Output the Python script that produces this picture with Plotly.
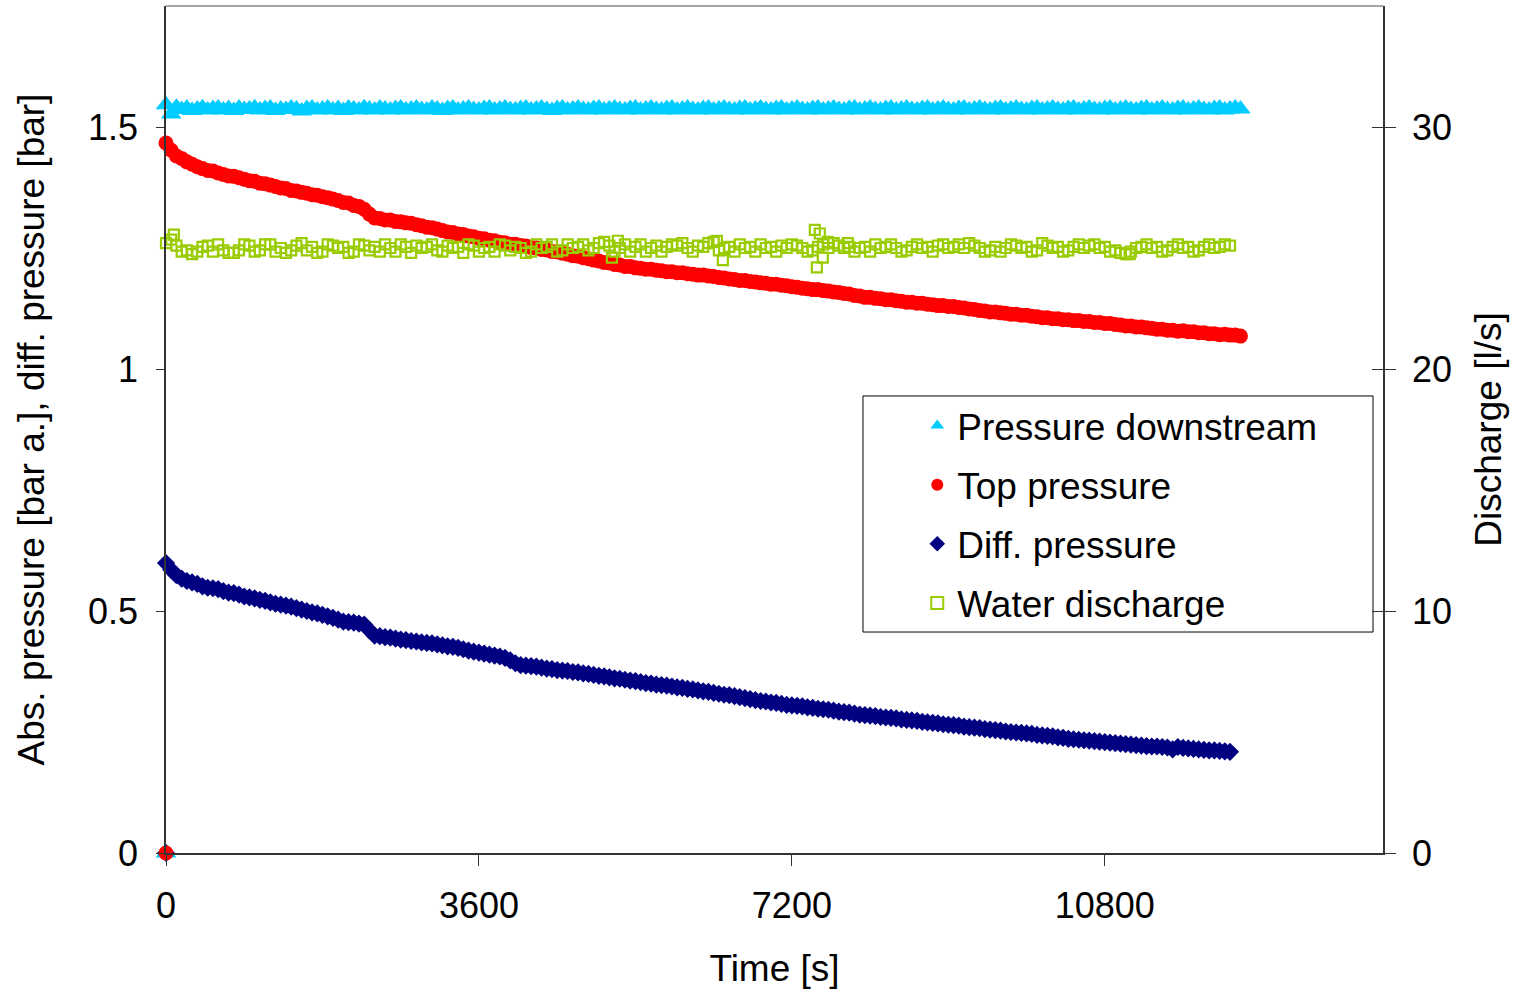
import plotly.graph_objects as go

# ---------------- data ----------------
SAMPLE_STEP = 60  # s between tabulated readings

pressure_downstream = [
    1.546, 1.527, 1.541, 1.536, 1.539, 1.534, 1.537, 1.540, 1.535, 1.538,
    1.539, 1.535, 1.538, 1.534, 1.539, 1.536, 1.537, 1.540, 1.535, 1.538,
    1.539, 1.534, 1.537, 1.536, 1.539, 1.537, 1.533, 1.538, 1.539, 1.535,
    1.537, 1.539, 1.535, 1.538, 1.534, 1.539, 1.537, 1.535, 1.540, 1.537,
    1.535, 1.539, 1.537, 1.535, 1.538, 1.539, 1.535, 1.537, 1.539, 1.536,
    1.535, 1.539, 1.537, 1.534, 1.538, 1.539, 1.535, 1.537, 1.539, 1.536,
    1.535, 1.538, 1.539, 1.535, 1.537, 1.539, 1.536, 1.535, 1.538, 1.539,
    1.535, 1.537, 1.539, 1.536, 1.534, 1.538, 1.539, 1.535, 1.537, 1.539,
    1.536, 1.535, 1.538, 1.539, 1.535, 1.537, 1.539, 1.536, 1.535, 1.538,
    1.539, 1.535, 1.537, 1.539, 1.536, 1.535, 1.538, 1.539, 1.535, 1.537,
    1.539, 1.536, 1.535, 1.538, 1.539, 1.535, 1.537, 1.539, 1.536, 1.535,
    1.538, 1.539, 1.535, 1.537, 1.539, 1.536, 1.535, 1.538, 1.539, 1.535,
    1.537, 1.539, 1.536, 1.535, 1.538, 1.539, 1.535, 1.537, 1.539, 1.536,
    1.535, 1.538, 1.539, 1.535, 1.537, 1.539, 1.536, 1.535, 1.538, 1.539,
    1.535, 1.537, 1.539, 1.536, 1.535, 1.538, 1.539, 1.535, 1.537, 1.539,
    1.536, 1.535, 1.538, 1.539, 1.535, 1.537, 1.539, 1.536, 1.535, 1.538,
    1.539, 1.535, 1.537, 1.539, 1.536, 1.535, 1.538, 1.539, 1.535, 1.537,
    1.539, 1.536, 1.535, 1.538, 1.539, 1.535, 1.537, 1.539, 1.536, 1.535,
    1.538, 1.539, 1.535, 1.537, 1.539, 1.536, 1.535, 1.538, 1.539, 1.535,
    1.537, 1.539, 1.536, 1.535, 1.538, 1.539, 1.535, 1.537, 1.539, 1.536,
    1.535, 1.538, 1.539, 1.535, 1.537, 1.539, 1.537,
]

top_pressure = [
    1.467, 1.452, 1.440, 1.435, 1.428, 1.423, 1.418, 1.414, 1.410, 1.409,
    1.405, 1.402, 1.399, 1.398, 1.395, 1.392, 1.389, 1.388, 1.384, 1.383,
    1.380, 1.377, 1.374, 1.373, 1.369, 1.368, 1.365, 1.363, 1.360, 1.359,
    1.356, 1.354, 1.351, 1.348, 1.344, 1.343, 1.338, 1.336, 1.330, 1.320,
    1.312, 1.311, 1.308, 1.308, 1.305, 1.304, 1.302, 1.301, 1.298, 1.296,
    1.293, 1.292, 1.289, 1.286, 1.283, 1.282, 1.279, 1.278, 1.275, 1.273,
    1.270, 1.269, 1.266, 1.265, 1.262, 1.261, 1.258, 1.258, 1.255, 1.254,
    1.251, 1.250, 1.247, 1.246, 1.243, 1.242, 1.239, 1.237, 1.234, 1.233,
    1.230, 1.228, 1.225, 1.223, 1.220, 1.219, 1.216, 1.215, 1.212, 1.212,
    1.209, 1.208, 1.206, 1.206, 1.204, 1.203, 1.201, 1.201, 1.199, 1.199,
    1.197, 1.196, 1.194, 1.194, 1.192, 1.191, 1.189, 1.188, 1.186, 1.185,
    1.183, 1.183, 1.181, 1.180, 1.178, 1.177, 1.175, 1.175, 1.173, 1.172,
    1.170, 1.169, 1.167, 1.166, 1.164, 1.164, 1.162, 1.161, 1.159, 1.158,
    1.156, 1.155, 1.152, 1.151, 1.148, 1.148, 1.146, 1.145, 1.143, 1.143,
    1.141, 1.140, 1.138, 1.138, 1.136, 1.136, 1.134, 1.133, 1.131, 1.131,
    1.129, 1.129, 1.127, 1.126, 1.124, 1.123, 1.121, 1.120, 1.118, 1.118,
    1.116, 1.115, 1.113, 1.113, 1.111, 1.111, 1.109, 1.108, 1.106, 1.106,
    1.104, 1.104, 1.102, 1.102, 1.100, 1.100, 1.098, 1.098, 1.096, 1.096,
    1.094, 1.094, 1.092, 1.091, 1.089, 1.089, 1.087, 1.087, 1.085, 1.084,
    1.082, 1.082, 1.080, 1.080, 1.078, 1.079, 1.077, 1.077, 1.075, 1.075,
    1.073, 1.073, 1.071, 1.072, 1.070, 1.070, 1.068,
]

diff_pressure = [
    0.599, 0.585, 0.574, 0.567, 0.562, 0.559, 0.556, 0.551, 0.548, 0.547,
    0.545, 0.541, 0.538, 0.537, 0.534, 0.530, 0.528, 0.526, 0.523, 0.521,
    0.518, 0.515, 0.513, 0.511, 0.509, 0.506, 0.503, 0.500, 0.497, 0.495,
    0.492, 0.489, 0.486, 0.482, 0.478, 0.477, 0.476, 0.474, 0.472, 0.460,
    0.449, 0.448, 0.446, 0.445, 0.443, 0.441, 0.440, 0.438, 0.437, 0.435,
    0.434, 0.433, 0.431, 0.429, 0.427, 0.426, 0.424, 0.421, 0.418, 0.416,
    0.414, 0.412, 0.410, 0.408, 0.406, 0.403, 0.398, 0.392, 0.388, 0.387,
    0.386, 0.385, 0.383, 0.381, 0.380, 0.378, 0.377, 0.376, 0.374, 0.373,
    0.371, 0.370, 0.368, 0.366, 0.365, 0.363, 0.361, 0.360, 0.358, 0.356,
    0.355, 0.353, 0.351, 0.350, 0.348, 0.347, 0.346, 0.344, 0.342, 0.341,
    0.339, 0.338, 0.336, 0.334, 0.333, 0.331, 0.329, 0.327, 0.326, 0.324,
    0.322, 0.320, 0.318, 0.316, 0.314, 0.313, 0.311, 0.310, 0.308, 0.306,
    0.305, 0.304, 0.303, 0.301, 0.300, 0.298, 0.297, 0.296, 0.294, 0.292,
    0.291, 0.290, 0.288, 0.286, 0.285, 0.284, 0.283, 0.281, 0.280, 0.279,
    0.278, 0.276, 0.275, 0.274, 0.273, 0.271, 0.270, 0.269, 0.268, 0.266,
    0.265, 0.264, 0.263, 0.261, 0.260, 0.259, 0.258, 0.256, 0.255, 0.254,
    0.253, 0.251, 0.250, 0.249, 0.248, 0.247, 0.246, 0.244, 0.243, 0.242,
    0.241, 0.239, 0.238, 0.236, 0.235, 0.234, 0.233, 0.232, 0.231, 0.230,
    0.229, 0.228, 0.227, 0.226, 0.225, 0.224, 0.223, 0.222, 0.221, 0.220,
    0.220, 0.219, 0.218, 0.214, 0.219, 0.217, 0.216, 0.215, 0.214, 0.213,
    0.212, 0.212, 0.211, 0.210, 0.209,
]

water_discharge = [
    25.20, 25.35, 25.10, 24.85, 24.90, 24.75, 24.85, 25.05, 25.10, 24.85,
    25.15, 24.90, 24.80, 24.80, 24.90, 25.15, 25.10, 24.85, 24.90, 25.15,
    25.15, 24.85, 25.00, 24.80, 24.90, 25.10, 25.20, 24.90, 25.05, 24.80,
    24.85, 25.15, 25.10, 25.00, 25.05, 24.80, 24.85, 25.15, 25.10, 24.90,
    25.05, 24.85, 25.15, 25.00, 24.85, 25.15, 25.05, 24.80, 25.10, 25.00,
    25.05, 25.15, 24.90, 24.85, 25.10, 25.00, 25.05, 24.80, 25.15, 25.10,
    24.85, 25.00, 25.05, 24.85, 25.15, 25.10, 24.90, 25.05, 25.00, 24.80,
    24.85, 25.15, 25.00, 25.05, 25.15, 24.85, 24.90, 25.15, 25.00, 25.05,
    25.15, 24.90, 25.00, 25.20, 25.25, 25.10, 24.85, 25.00, 25.15, 24.85,
    25.05, 25.15, 24.85, 25.00, 25.10, 24.85, 25.05, 25.15, 25.10, 25.20,
    25.00, 24.85, 25.10, 25.05, 25.20, 25.25, 24.90, 25.00, 25.05, 24.85,
    25.15, 25.00, 25.05, 24.85, 25.15, 25.00, 25.05, 24.85, 25.10, 25.00,
    25.15, 25.10, 25.00, 24.85, 24.90, 25.05, 25.15, 25.00, 25.20, 25.10,
    25.00, 25.05, 24.85, 25.00, 25.05, 24.85, 25.15, 25.00, 25.05, 25.15,
    25.00, 24.85, 24.90, 25.05, 25.15, 25.00, 25.05, 24.85, 25.10, 25.15,
    25.00, 25.05, 25.15, 25.00, 25.20, 25.10, 25.00, 24.85, 24.90, 25.05,
    24.85, 25.00, 25.15, 25.10, 25.00, 25.05, 24.85, 24.90, 25.20, 25.10,
    25.00, 25.05, 24.85, 24.90, 25.05, 25.15, 25.00, 25.10, 25.15, 25.00,
    25.05, 24.85, 24.90, 24.80, 24.75, 24.85, 25.00, 25.05, 25.15, 25.00,
    25.05, 24.85, 24.90, 25.05, 25.15, 25.00, 25.05, 24.85, 24.90, 25.05,
    25.15, 25.00, 25.05, 25.15, 25.10,
]
# individual scattered discharge readings (time s, value l/s)
t_discharge_extra = [90, 5129, 5198, 6337, 6406, 7464, 7487, 7521, 7556, 7613, 7843, 11086]
water_discharge_extra = [25.55, 24.60, 25.30, 25.30, 24.50, 25.75, 24.20, 25.60, 24.60, 25.25, 25.20, 24.75]

# zero row at the start of the record
t_zero = [0]
zero_value = [0.0]

x_ticks = [0, 3600, 7200, 10800]
y_ticks = [0, 0.5, 1, 1.5]
y_tick_text = ["0", "0.5", "1", "1.5"]
y2_ticks = [0, 10, 20, 30]

# ---------------- styling ----------------
FONT = "Liberation Sans, Arial, sans-serif"
CYAN = "#00ccff"
RED = "#ff0000"
NAVY = "#000080"
GREEN = "#99cc00"
AXIS = "#333333"

t_press = [SAMPLE_STEP * i for i in range(len(top_pressure))]
t_down = [SAMPLE_STEP * i for i in range(len(pressure_downstream))]
t_diff = [SAMPLE_STEP * i for i in range(len(diff_pressure))]
t_disc = [SAMPLE_STEP * i for i in range(len(water_discharge))]

disc_pairs = sorted(zip(t_disc + t_discharge_extra, water_discharge + water_discharge_extra))
t_disc_all = [p[0] for p in disc_pairs]
v_disc_all = [p[1] for p in disc_pairs]

fig = go.Figure()

fig.add_trace(go.Scatter(
    x=t_zero + t_down, y=zero_value + pressure_downstream, mode="markers",
    name="Pressure downstream", legendrank=1, legendgroup="a",
    marker=dict(symbol="triangle-up", size=18, color=CYAN, line=dict(width=0)),
    yaxis="y", cliponaxis=False))
fig.add_trace(go.Scatter(
    x=t_zero + t_diff, y=zero_value + diff_pressure, mode="markers",
    name="Diff. pressure", legendrank=3, legendgroup="c",
    marker=dict(symbol="diamond", size=14, color=NAVY, line=dict(width=0)),
    yaxis="y", cliponaxis=False))
fig.add_trace(go.Scatter(
    x=t_zero + t_press, y=zero_value + top_pressure, mode="markers",
    name="Top pressure", legendrank=2, legendgroup="b",
    marker=dict(symbol="circle", size=15, color=RED, line=dict(width=0)),
    yaxis="y", cliponaxis=False))
fig.add_trace(go.Scatter(
    x=t_disc_all, y=v_disc_all, mode="markers",
    name="Water discharge", legendrank=4, legendgroup="d",
    marker=dict(symbol="square-open", size=10, color=GREEN, line=dict(width=2.2, color=GREEN)),
    yaxis="y2", cliponaxis=False))

tick_font = dict(family=FONT, size=36, color="black")
title_font = dict(family=FONT, size=37, color="black")

fig.update_layout(
    width=1515, height=989,
    margin=dict(l=166, r=132, t=6, b=136, autoexpand=False),
    paper_bgcolor="white", plot_bgcolor="white",
    font=dict(family=FONT, size=36, color="black"),
    showlegend=True,
    legend=dict(
        x=0.6173, y=0.5407, xanchor="left", yanchor="top",
        bgcolor="rgba(0,0,0,0)", borderwidth=0,
        font=dict(family=FONT, size=37, color="black"),
        tracegroupgap=8, traceorder="grouped",
        itemsizing="constant",
    ),
    xaxis=dict(
        range=[0, 14000], tickmode="array", tickvals=x_ticks,
        ticktext=[str(v) for v in x_ticks],
        showgrid=False, zeroline=False,
        showline=True, linecolor=AXIS, linewidth=1.5,
        ticks="outside", ticklen=11, tickwidth=1, tickcolor=AXIS,
        tickfont=tick_font, ticklabelstandoff=9,
        title=dict(text="Time [s]", font=title_font, standoff=39),
    ),
    yaxis=dict(
        range=[0, 1.75], tickmode="array", tickvals=y_ticks, ticktext=y_tick_text,
        showgrid=False, zeroline=False,
        showline=True, linecolor=AXIS, linewidth=1.5,
        ticks="outside", ticklen=8, tickwidth=1, tickcolor=AXIS,
        tickfont=tick_font, ticklabelstandoff=11,
        title=dict(text="Abs. pressure [bar a.], diff. pressure [bar]", font=title_font, standoff=32),
    ),
    yaxis2=dict(
        range=[0, 35], overlaying="y", side="right",
        tickmode="array", tickvals=y2_ticks, ticktext=[str(v) for v in y2_ticks],
        showgrid=False, zeroline=False,
        showline=True, linecolor=AXIS, linewidth=1.5,
        ticks="outside", ticklen=11, tickwidth=1, tickcolor=AXIS,
        tickfont=tick_font, ticklabelstandoff=9,
        title=dict(text="Discharge [l/s]", font=title_font, standoff=24),
    ),
    yaxis3=dict(
        range=[0, 35], overlaying="y", side="right", anchor="x",
        tickmode="array", tickvals=y2_ticks, showticklabels=False,
        showgrid=False, zeroline=False, showline=False,
        ticks="inside", ticklen=11, tickwidth=1, tickcolor=AXIS,
    ),
    shapes=[
        dict(type="line", xref="paper", yref="paper", x0=0, x1=1, y0=1, y1=1,
             line=dict(color="#888888", width=1.5)),
        dict(type="rect", xref="paper", yref="paper",
             x0=0.5727, x1=0.9918, y0=0.2609, y1=0.5396,
             line=dict(color="black", width=1), fillcolor="white", layer="below"),
    ],
)

fig.add_trace(go.Scatter(x=[None], y=[None], yaxis="y3", showlegend=False, hoverinfo="skip"))

fig.write_html("out.html", config={"displayModeBar": False},
               post_script="document.body.style.margin='0px';")
